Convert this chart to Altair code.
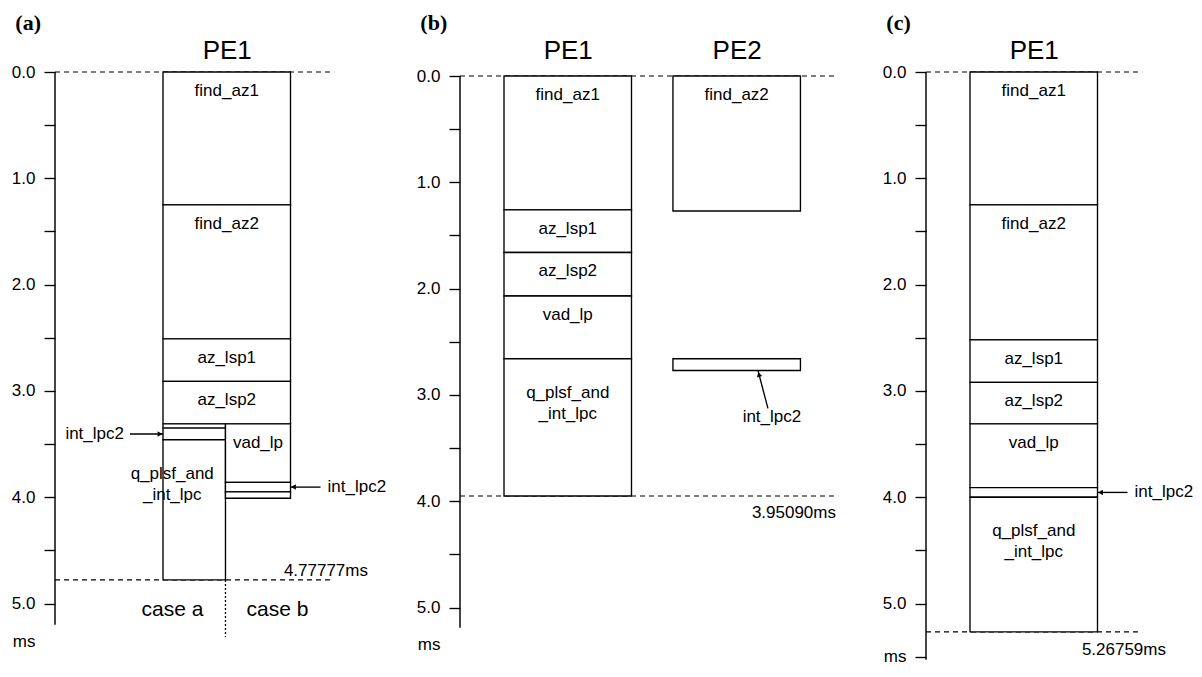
import altair as alt
import pandas as pd

# ---------------- data ----------------
# Panel (a): one PE, two alternative cases after az_lsp2
A_PE = ["PE1"] * 10
A_LANE = ["full", "full", "full", "full", "case a", "case a", "case a", "case b", "case b", "case b"]
A_TASK = ["find_az1", "find_az2", "az_lsp1", "az_lsp2", "", "int_lpc2",
          "q_plsf_and\n_int_lpc", "vad_lp", "int_lpc2", ""]
A_START = [0.00, 1.25, 2.51, 2.91, 3.31, 3.35, 3.46, 3.31, 3.86, 3.95]
A_END = [1.25, 2.51, 2.91, 3.31, 3.35, 3.46, 4.77777, 3.86, 3.95, 4.01]

# Panel (b): two PEs
B_PE = ["PE1", "PE1", "PE1", "PE1", "PE1", "PE2", "PE2"]
B_LANE = ["full"] * 7
B_TASK = ["find_az1", "az_lsp1", "az_lsp2", "vad_lp", "q_plsf_and\n_int_lpc", "find_az2", "int_lpc2"]
B_START = [0.00, 1.26, 1.66, 2.07, 2.66, 0.00, 2.66]
B_END = [1.26, 1.66, 2.07, 2.66, 3.95090, 1.27, 2.77]

# Panel (c): one PE, sequential
C_PE = ["PE1"] * 7
C_LANE = ["full"] * 7
C_TASK = ["find_az1", "find_az2", "az_lsp1", "az_lsp2", "vad_lp", "int_lpc2", "q_plsf_and\n_int_lpc"]
C_START = [0.00, 1.25, 2.52, 2.92, 3.31, 3.91, 4.00]
C_END = [1.25, 2.52, 2.92, 3.31, 3.91, 4.00, 5.26759]

MAKESPAN = [4.77777, 3.95090, 5.26759]
MAKESPAN_LABEL = ["4.77777ms", "3.95090ms", "5.26759ms"]
PANEL_TITLE = ["(a)", "(b)", "(c)"]
CASE_LABELS = ["case a", "case b"]
# annotated thin tasks: (task index, side of the arrow)
A_ANNOT = [(5, "left"), (8, "right")]
B_ANNOT = [(6, "below")]
C_ANNOT = [(5, "right")]

# ---------------- layout / style ----------------
U = 127.5      # px per column unit
K = 106.3      # px per ms
SPLIT = 0.49   # case a / case b split inside the column
FONT = "Liberation Sans"
SPACING = 30
TXT = 17       # text size inside/around the boxes
LW = 1.35      # line width

LAYOUT = {
    "a": dict(width=375, axis_px=108, pe_pos={"PE1": 0.0}, y_off=0.0, axis_end=5.2,
              y_end=5.2, dash_px=278, ms_px=313, ms_dy=-9, ms_title=True,
              nudge={6: -22}),
    "b": dict(width=436, axis_px=44, pe_pos={"PE1": 0.0, "PE2": 1.325}, y_off=-4 / K,
              axis_end=5.19, y_end=5.19, dash_px=378, ms_px=376, ms_dy=17, ms_title=True,
              nudge={}),
    "c": dict(width=212, axis_px=44, pe_pos={"PE1": 0.0}, y_off=0.0, axis_end=5.53,
              y_end=5.53, dash_px=212, ms_px=240, ms_dy=18, ms_title=False,
              nudge={}),
}
LANE_SPAN = {"full": (0.0, 1.0), "case a": (0.0, SPLIT), "case b": (SPLIT, 1.0)}


def build(key, pe, lane, task, start, end, annot, makespan, mlabel, title):
    L = LAYOUT[key]
    xmin = -L["axis_px"] / U
    xs = alt.Scale(domain=[xmin, xmin + L["width"] / U], nice=False, zero=False)
    ys = alt.Scale(domain=[L["y_off"], L["y_end"]], nice=False, zero=False, reverse=True)
    height = (L["y_end"] - L["y_off"]) * K

    df = pd.DataFrame(dict(pe=pe, lane=lane, task=task, start=start, end=end))
    df["x0"] = [L["pe_pos"][p] + LANE_SPAN[l][0] for p, l in zip(pe, lane)]
    df["x1"] = [L["pe_pos"][p] + LANE_SPAN[l][1] for p, l in zip(pe, lane)]
    df["xm"] = (df["x0"] + df["x1"]) / 2 + [L["nudge"].get(i, 0) / U for i in range(len(df))]
    two = df["task"].str.contains("\n")
    df["ly"] = df["start"] + [(26 if t else 11) / K for t in two]
    df["show"] = (df["end"] - df["start"]) > 0.3

    pes = sorted(L["pe_pos"].keys())
    centers = [L["pe_pos"][p] + 0.5 for p in pes]
    if len(pes) == 1:
        xexpr = "'%s'" % pes[0]
    else:
        xexpr = "datum.value < %f ? '%s' : '%s'" % ((centers[0] + centers[1]) / 2, pes[0], pes[1])
    xaxis = alt.Axis(orient="top", values=centers, labelExpr=xexpr, domain=False, ticks=False,
                     grid=False, labelFontSize=26, labelFont=FONT, labelColor="black",
                     labelPadding=9, title=None, labelFlush=False, labelOverlap=False)

    ticks = [i * 0.5 for i in range(11)]
    if key == "c":
        ticks = ticks + [5.5]
        yexpr = "datum.value == 5.5 ? 'ms' : (datum.value % 1 == 0 ? format(datum.value, '.1f') : '')"
    else:
        yexpr = "datum.value % 1 == 0 ? format(datum.value, '.1f') : ''"
    yaxis_kw = dict(values=ticks, labelExpr=yexpr, domain=False, grid=False, tickSize=11,
                    tickWidth=LW, tickColor="black", labelPadding=9, labelFontSize=17,
                    labelFont=FONT, labelColor="black", labelOverlap=False, labelFlush=False)
    if L["ms_title"]:
        yaxis_kw.update(title="ms", titleAngle=0, titleX=-20, titleY=height + 17,
                        titleAlign="right", titleBaseline="middle", titleFontSize=17,
                        titleFont=FONT, titleFontWeight="normal", titleColor="black")
    else:
        yaxis_kw.update(title=None)
    yaxis = alt.Axis(**yaxis_kw)

    def X(f):
        return alt.X(f, scale=xs, axis=xaxis)

    def Y(f):
        return alt.Y(f, scale=ys, axis=yaxis)

    layers = []
    # dashed start / makespan lines
    dd = pd.DataFrame(dict(y=[0.0, makespan], xs=[xmin, xmin], xe=[xmin + L["dash_px"] / U] * 2))
    layers.append(alt.Chart(dd).mark_rule(color="black", strokeWidth=1.2, strokeDash=[5, 4]).encode(
        x=X("xs:Q"), x2="xe", y=Y("y:Q")))
    # task boxes
    layers.append(alt.Chart(df).mark_rect(fill="white", stroke="black", strokeWidth=LW).encode(
        x=X("x0:Q"), x2="x1", y=Y("start:Q"), y2="end"))
    # axis line
    axdf = pd.DataFrame(dict(a=[0.0], b=[L["axis_end"]]))
    layers.append(alt.Chart(axdf).mark_rule(color="black", strokeWidth=LW + 0.1).encode(
        x=alt.value(0), y=Y("a:Q"), y2="b"))
    # task labels
    layers.append(alt.Chart(df[df["show"]]).mark_text(
        baseline="top", align="center", lineBreak="\n", lineHeight=21, fontSize=TXT, font=FONT,
        color="black").encode(x=X("xm:Q"), y=Y("ly:Q"), text="task:N"))
    # makespan label
    md = pd.DataFrame(dict(x=[xmin + L["ms_px"] / U], y=[makespan], t=[mlabel]))
    layers.append(alt.Chart(md).mark_text(align="right", baseline="middle", dy=L["ms_dy"],
                                          fontSize=TXT, font=FONT, color="black").encode(
        x=X("x:Q"), y=Y("y:Q"), text="t:N"))

    # annotation arrows
    rows = []
    for idx, side in annot:
        r = df.iloc[idx]
        mid = (r["start"] + r["end"]) / 2
        if side == "left":
            tip = (r["x0"], mid); tail = (r["x0"] - 33 / U, mid); head = (r["x0"] - 3 / U, mid)
            shp, ang = "triangle-right", 0
            lab = (tail[0] - 6 / U, mid); al, bl = "right", "middle"
        elif side == "right":
            tip = (r["x1"], mid); tail = (r["x1"] + 30 / U, mid); head = (r["x1"] + 3 / U, mid)
            shp, ang = "triangle-left", 0
            lab = (tail[0] + 7 / U, mid); al, bl = "left", "middle"
        else:
            tip = (r["x0"] + 85 / U, r["end"])
            tail = (tip[0] + 10 / U, r["end"] + 38 / K)
            head = (tip[0] + 1 / U, r["end"] + 4 / K)
            shp, ang = "triangle-up", 345
            lab = (tail[0] + 4 / U, tail[1] + 1 / K); al, bl = "center", "top"
        rows.append(dict(tip_x=tip[0], tip_y=tip[1], tail_x=tail[0], tail_y=tail[1],
                         head_x=head[0], head_y=head[1], shape=shp, angle=ang,
                         lx=lab[0], ly=lab[1], al=al, bl=bl, label=r["task"]))
    an = pd.DataFrame(rows)
    layers.append(alt.Chart(an).mark_rule(color="black", strokeWidth=LW).encode(
        x=X("tail_x:Q"), x2="tip_x", y=Y("tail_y:Q"), y2="tip_y"))
    layers.append(alt.Chart(an).mark_point(filled=True, color="black", opacity=1, size=30).encode(
        x=X("head_x:Q"), y=Y("head_y:Q"),
        shape=alt.Shape("shape:N", scale=None), angle=alt.Angle("angle:Q", scale=None)))
    for (al, bl), g in an.groupby(["al", "bl"]):
        layers.append(alt.Chart(g).mark_text(align=al, baseline=bl, fontSize=TXT, font=FONT,
                                             color="black").encode(
            x=X("lx:Q"), y=Y("ly:Q"), text="label:N"))

    if key == "a":
        # dotted divider between the two cases and the case labels
        dv = pd.DataFrame(dict(x=[SPLIT], y=[makespan], y2=[makespan + 57 / K]))
        layers.append(alt.Chart(dv).mark_rule(color="black", strokeWidth=1.3, strokeDash=[2, 2]).encode(
            x=X("x:Q"), y=Y("y:Q"), y2="y2"))
        cl = pd.DataFrame(dict(x=[SPLIT], y=[makespan + 30 / K]))
        for txt, al, dx in [(CASE_LABELS[0], "right", -22), (CASE_LABELS[1], "left", 21)]:
            layers.append(alt.Chart(cl).mark_text(align=al, baseline="middle", dx=dx, fontSize=21,
                                                  font=FONT, color="black", text=txt).encode(
                x=X("x:Q"), y=Y("y:Q")))

    return alt.layer(*layers).properties(
        width=L["width"], height=height,
        title=alt.TitleParams(title, anchor="start", frame="bounds", font="Liberation Serif",
                              fontSize=22, fontWeight="bold", dx=4, offset=2, color="black"))


pa = build("a", A_PE, A_LANE, A_TASK, A_START, A_END, A_ANNOT, MAKESPAN[0], MAKESPAN_LABEL[0], PANEL_TITLE[0])
pb = build("b", B_PE, B_LANE, B_TASK, B_START, B_END, B_ANNOT, MAKESPAN[1], MAKESPAN_LABEL[1], PANEL_TITLE[1])
pc = build("c", C_PE, C_LANE, C_TASK, C_START, C_END, C_ANNOT, MAKESPAN[2], MAKESPAN_LABEL[2], PANEL_TITLE[2])

chart = alt.hconcat(pa, pb, pc, spacing=SPACING, bounds="flush").properties(
    padding={"left": 3, "top": 4, "right": 0, "bottom": 0},
    background="white",
).configure_view(stroke=None)

chart.save("out.html", embed_options={"renderer": "svg", "actions": False})
